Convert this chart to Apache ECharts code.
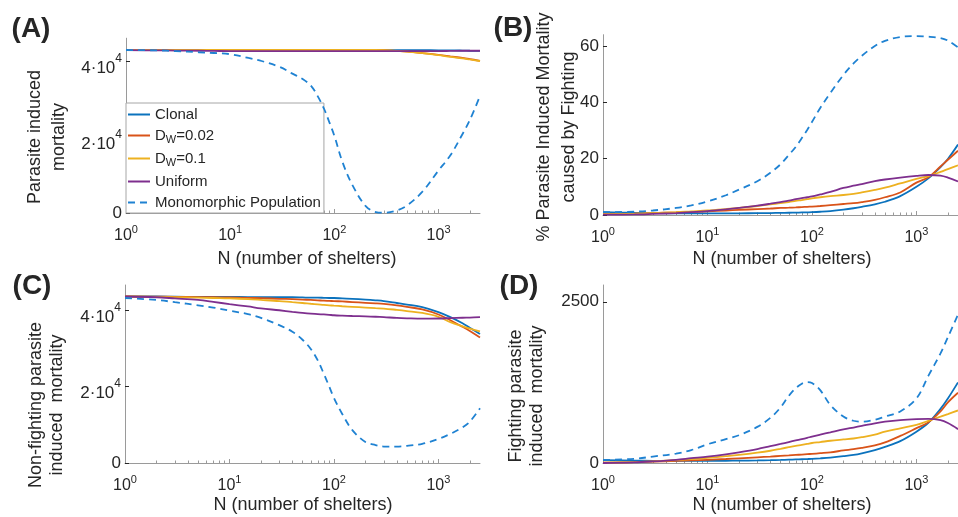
<!DOCTYPE html>
<html>
<head>
<meta charset="utf-8">
<title>Parasite induced mortality</title>
<script src="https://cdn.jsdelivr.net/npm/echarts@6/dist/echarts.min.js"></script>
<style>
  html, body {margin:0; padding:0; background:#fff;}
  #chart {width:958px; height:517px;}
</style>
</head>
<body>
<div id="chart"></div>
<script>
// number of shelters (x values shared by every curve)
var N = [1, 2, 3, 5, 7, 10, 15, 20, 30, 40, 50, 60, 70, 80, 90, 100, 120, 150, 200, 250, 300, 400, 500, 700, 1000, 1300, 1700, 2000, 2500];

var seriesNames = ['Clonal', 'D_W=0.02', 'D_W=0.1', 'Uniform', 'Monomorphic Population'];

// (A) parasite induced mortality
var clonalA  = [42850,42850,42850,42850,42850,42850,42850,42850,42850,42850,42850,42850,42850,42850,42850,42850,42850,42850,42850,42850,42850,42850,42850,42850,42800,42800,42750,42700,42650];
var dw002A   = [42900,42900,42900,42900,42900,42900,42900,42900,42900,42900,42900,42900,42900,42900,42900,42900,42900,42900,42900,42900,42850,42650,42500,42100,41600,41200,40800,40500,40050];
var dw01A    = [42900,42900,42900,42900,42900,42900,42900,42900,42900,42900,42900,42900,42900,42900,42900,42900,42900,42900,42900,42900,42850,42650,42450,42050,41550,41100,40700,40400,40000];
var uniformA = [42850,42800,42750,42700,42650,42600,42600,42600,42600,42600,42600,42600,42600,42600,42600,42600,42600,42600,42600,42600,42600,42600,42600,42600,42600,42650,42700,42700,42700];
var monoA    = [42900,42800,42600,42300,42100,41800,40800,40000,38400,36600,35200,33400,30500,27300,23700,20300,13300,7200,1800,250,80,700,2000,5600,11200,15200,20800,24500,30800];

// (B) % parasite induced mortality caused by fighting
var clonalB  = [1.0,0.8,0.7,0.6,0.6,0.6,0.6,0.6,0.65,0.7,0.75,0.8,0.85,0.9,0.95,1.0,1.15,1.4,1.9,2.4,2.9,3.8,4.7,6.7,10.0,13.0,17.0,19.9,25.0];
var dw002B   = [0.3,0.5,0.7,0.9,1.1,1.3,1.6,1.8,2.1,2.3,2.5,2.6,2.7,2.8,2.9,3.0,3.2,3.5,3.9,4.2,4.6,5.4,6.3,8.0,11.5,13.4,17.2,19.6,22.8];
var dw01B    = [0.3,0.5,0.7,1.0,1.3,1.6,2.1,2.5,3.2,3.8,4.2,4.6,5.0,5.3,5.6,5.9,6.3,6.7,7.1,7.5,8.0,8.9,9.7,11.2,12.8,13.8,15.3,16.3,17.6];
var uniformB = [0.1,0.2,0.4,0.7,1.0,1.4,2.0,2.5,3.3,4.0,4.6,5.1,5.6,6.0,6.3,6.6,7.3,8.2,9.6,10.4,11.0,12.0,12.6,13.3,13.9,14.2,14.0,13.3,11.9];
var monoB    = [1.0,1.2,1.6,2.5,3.4,4.8,7.0,9.0,12.0,15.0,18.0,21.3,24.2,27.3,30.2,33.0,38.0,43.3,49.7,53.8,56.5,60.0,61.8,63.2,63.5,63.3,62.8,61.9,59.5];

// (C) non-fighting parasite induced mortality
var clonalC  = [43500,43500,43450,43400,43400,43400,43350,43350,43300,43300,43250,43200,43200,43150,43100,43100,43000,42900,42700,42500,42300,41800,41400,40700,39400,38100,36500,35300,33700];
var dw002C   = [43500,43450,43400,43350,43300,43250,43150,43050,42900,42800,42700,42600,42500,42400,42350,42300,42200,42050,41850,41700,41550,41200,40800,40100,38800,37300,35600,34500,32800];
var dw01C    = [43500,43400,43350,43200,43100,43000,42800,42600,42300,42000,41800,41600,41450,41300,41200,41100,40950,40800,40600,40450,40350,40000,39700,39200,38200,36800,35700,35100,34400];
var uniformC = [43500,43300,43000,42600,42100,41500,40900,40400,39900,39500,39200,39000,38900,38800,38700,38600,38500,38400,38300,38200,38100,37900,37800,37700,37750,37850,37950,38000,38100];
var monoC    = [43100,42600,42000,41200,40600,39800,38900,37900,36000,34300,32200,29800,26800,23300,20000,17000,12800,8600,5500,4700,4300,4300,4500,5000,6300,7600,9300,10800,14300];

// (D) fighting parasite induced mortality
var clonalD  = [45,38,34,32,32,33,35,37,40,44,48,52,55,58,61,64,72,84,105,125,150,200,250,340,486,624,840,1000,1250];
var dw002D   = [5,15,22,32,40,50,62,72,88,100,110,118,125,131,137,142,152,165,195,215,235,275,320,420,540,630,800,940,1090];
var dw01D    = [5,15,25,45,60,80,105,125,160,190,220,245,265,280,295,310,325,345,365,380,400,440,488,538,590,654,719,759,815];
var uniformD = [0,10,25,50,75,100,135,165,215,260,295,325,350,370,390,410,440,475,520,550,575,615,640,665,680,685,665,620,525];
var monoD    = [47,65,100,145,200,290,370,430,560,700,860,1040,1160,1230,1255,1240,1130,900,720,655,640,670,720,800,1000,1350,1700,1950,2300];

// tick labels
var xMajor = [1, 10, 100, 1000];
var yTicksA = [0, 20000, 40000];
var yTicksB = [0, 20, 40, 60];
var yTicksC = [0, 20000, 40000];
var yTicksD = [0, 2500];

var panels = [
  {data: [clonalA, dw002A, dw01A, uniformA, monoA], yMax: 46000, ticks: yTicksA, sci: true},
  {data: [clonalB, dw002B, dw01B, uniformB, monoB], yMax: 64, ticks: yTicksB, sci: false},
  {data: [clonalC, dw002C, dw01C, uniformC, monoC], yMax: 46500, ticks: yTicksC, sci: true},
  {data: [clonalD, dw002D, dw01D, uniformD, monoD], yMax: 2760, ticks: yTicksD, sci: false}
];

var colors = ['#0b72bd', '#d95319', '#edb120', '#7e2f8e', '#1f82d2'];
var FONT = '"Liberation Sans", Arial, Helvetica, sans-serif';
var TXT = '#262626';
var AXIS = '#9a9a9a';

var grids = [
  {left: 126, top: 38.2, width: 354, height: 174.8},
  {left: 603, top: 34.7, width: 355, height: 180.3},
  {left: 125, top: 285, width: 355, height: 178},
  {left: 603, top: 285, width: 355, height: 178}
];

var xMinor = [];
[1, 10, 100, 1000].forEach(function (d) {
  for (var k = 2; k <= 9; k++) {
    if (d * k <= 2500) xMinor.push(d * k);
  }
});

var xAxes = [], yAxes = [], series = [];
grids.forEach(function (g, i) {
  g.outerBoundsMode = 'none';
  g.containLabel = false;
  xAxes.push({
    type: 'log', logBase: 10, gridIndex: i, min: 1, max: 2500, position: 'bottom',
    axisLine: {show: true, lineStyle: {color: AXIS, width: 1}},
    axisTick: {show: true, inside: true, length: 4, lineStyle: {color: AXIS}, customValues: xMajor},
    splitLine: {show: false},
    minorTick: {show: false},
    axisLabel: {
      customValues: xMajor, margin: 11, color: TXT, fontFamily: FONT, fontSize: 16,
      formatter: function (v) {
        return '{b|10}{sup|' + Math.round(Math.log10(v)) + '}';
      },
      rich: {
        b: {fontSize: 16, fontFamily: FONT, color: TXT, verticalAlign: 'bottom'},
        sup: {fontSize: 11, fontFamily: FONT, color: TXT, padding: [0, 0, 9, 0], verticalAlign: 'top'}
      }
    }
  });
  // minor ticks of the log axis
  xAxes.push({
    type: 'log', logBase: 10, gridIndex: i, min: 1, max: 2500, position: 'bottom',
    axisLine: {show: false},
    axisTick: {show: true, inside: true, length: 2.5, lineStyle: {color: AXIS}, customValues: xMinor},
    axisLabel: {show: false},
    splitLine: {show: false}
  });

  var p = panels[i];
  yAxes.push({
    type: 'value', gridIndex: i, min: 0, max: p.yMax,
    axisLine: {show: true, lineStyle: {color: AXIS, width: 1}},
    axisTick: {show: true, inside: true, length: 4, lineStyle: {color: TXT}, customValues: p.ticks},
    splitLine: {show: false},
    axisLabel: {
      customValues: p.ticks, margin: 4, color: TXT, fontFamily: FONT, fontSize: 17,
      formatter: function (v) {
        if (!p.sci) return String(v);
        if (v === 0) return '{b0|0}';
        return '{b|' + (v / 10000) + '·10}{sup|4}';
      },
      rich: {
        b0: {fontSize: 17, fontFamily: FONT, color: TXT},
        b: {fontSize: 17, fontFamily: FONT, color: TXT, verticalAlign: 'bottom'},
        sup: {fontSize: 12, fontFamily: FONT, color: TXT, padding: [7, 0, 12, 0], verticalAlign: 'top'}
      }
    }
  });

  p.data.forEach(function (vals, k) {
    series.push({
      name: seriesNames[k],
      type: 'line',
      xAxisIndex: i * 2,
      yAxisIndex: i,
      data: N.map(function (n, j) { return [n, vals[j]]; }),
      smooth: 0.35,
      symbol: 'none',
      clip: true,
      lineStyle: {color: colors[k], width: 1.8, type: k === 4 ? [7, 5] : 'solid'},
      itemStyle: {color: colors[k]},
      z: 2 + k
    });
  });
});

function rotText(x, y, text, lh) {
  return {
    type: 'text', x: x, y: y, rotation: Math.PI / 2,
    style: {text: text, font: '18px ' + FONT, fill: TXT, align: 'center', verticalAlign: 'middle',
            textAlign: 'center', textVerticalAlign: 'middle', lineHeight: lh}
  };
}
function plainText(x, y, text, font) {
  return {
    type: 'text', x: x, y: y,
    style: {text: text, font: font, fill: TXT, align: 'center', verticalAlign: 'middle',
            textAlign: 'center', textVerticalAlign: 'middle'}
  };
}

var chart = echarts.init(document.getElementById('chart'), null, {renderer: 'canvas'});
chart.setOption({
  animation: false,
  backgroundColor: '#fff',
  textStyle: {fontFamily: FONT, color: TXT},
  grid: grids,
  xAxis: xAxes,
  yAxis: yAxes,
  legend: {
    orient: 'vertical', left: 126, top: 103,
    data: seriesNames,
    backgroundColor: '#fff', borderColor: '#a6a6a6', borderWidth: 1,
    padding: [4, 3, 3, 1], itemGap: 6, itemWidth: 22, itemHeight: 14,
    itemStyle: {color: 'rgba(0,0,0,0)', borderColor: 'rgba(0,0,0,0)', borderWidth: 0},
    formatter: function (name) { return name.replace('D_W', 'D{sub|W}'); },
    textStyle: {
      fontFamily: FONT, fontSize: 15, color: TXT,
      rich: {
        sub: {fontSize: 11, fontFamily: FONT, color: TXT, padding: [8, 0, 0, 0], verticalAlign: 'bottom'}
      }
    }
  },
  graphic: [
    plainText(31, 29, '(A)', 'bold 28px ' + FONT),
    plainText(513, 28, '(B)', 'bold 28px ' + FONT),
    plainText(32, 286, '(C)', 'bold 28px ' + FONT),
    plainText(519, 286, '(D)', 'bold 28px ' + FONT),
    plainText(307, 259, 'N (number of shelters)', '18px ' + FONT),
    plainText(782, 259, 'N (number of shelters)', '18px ' + FONT),
    plainText(303, 505, 'N (number of shelters)', '18px ' + FONT),
    plainText(782, 505, 'N (number of shelters)', '18px ' + FONT),
    rotText(47, 137, 'Parasite induced\nmortality', 24),
    rotText(557, 127, '% Parasite Induced Mortality\ncaused by Fighting', 25),
    rotText(47, 405, 'Non-fighting parasite\ninduced  mortality', 21),
    rotText(527, 396, 'Fighting parasite\ninduced  mortality', 21)
  ],
  series: series
});
</script>
</body>
</html>
